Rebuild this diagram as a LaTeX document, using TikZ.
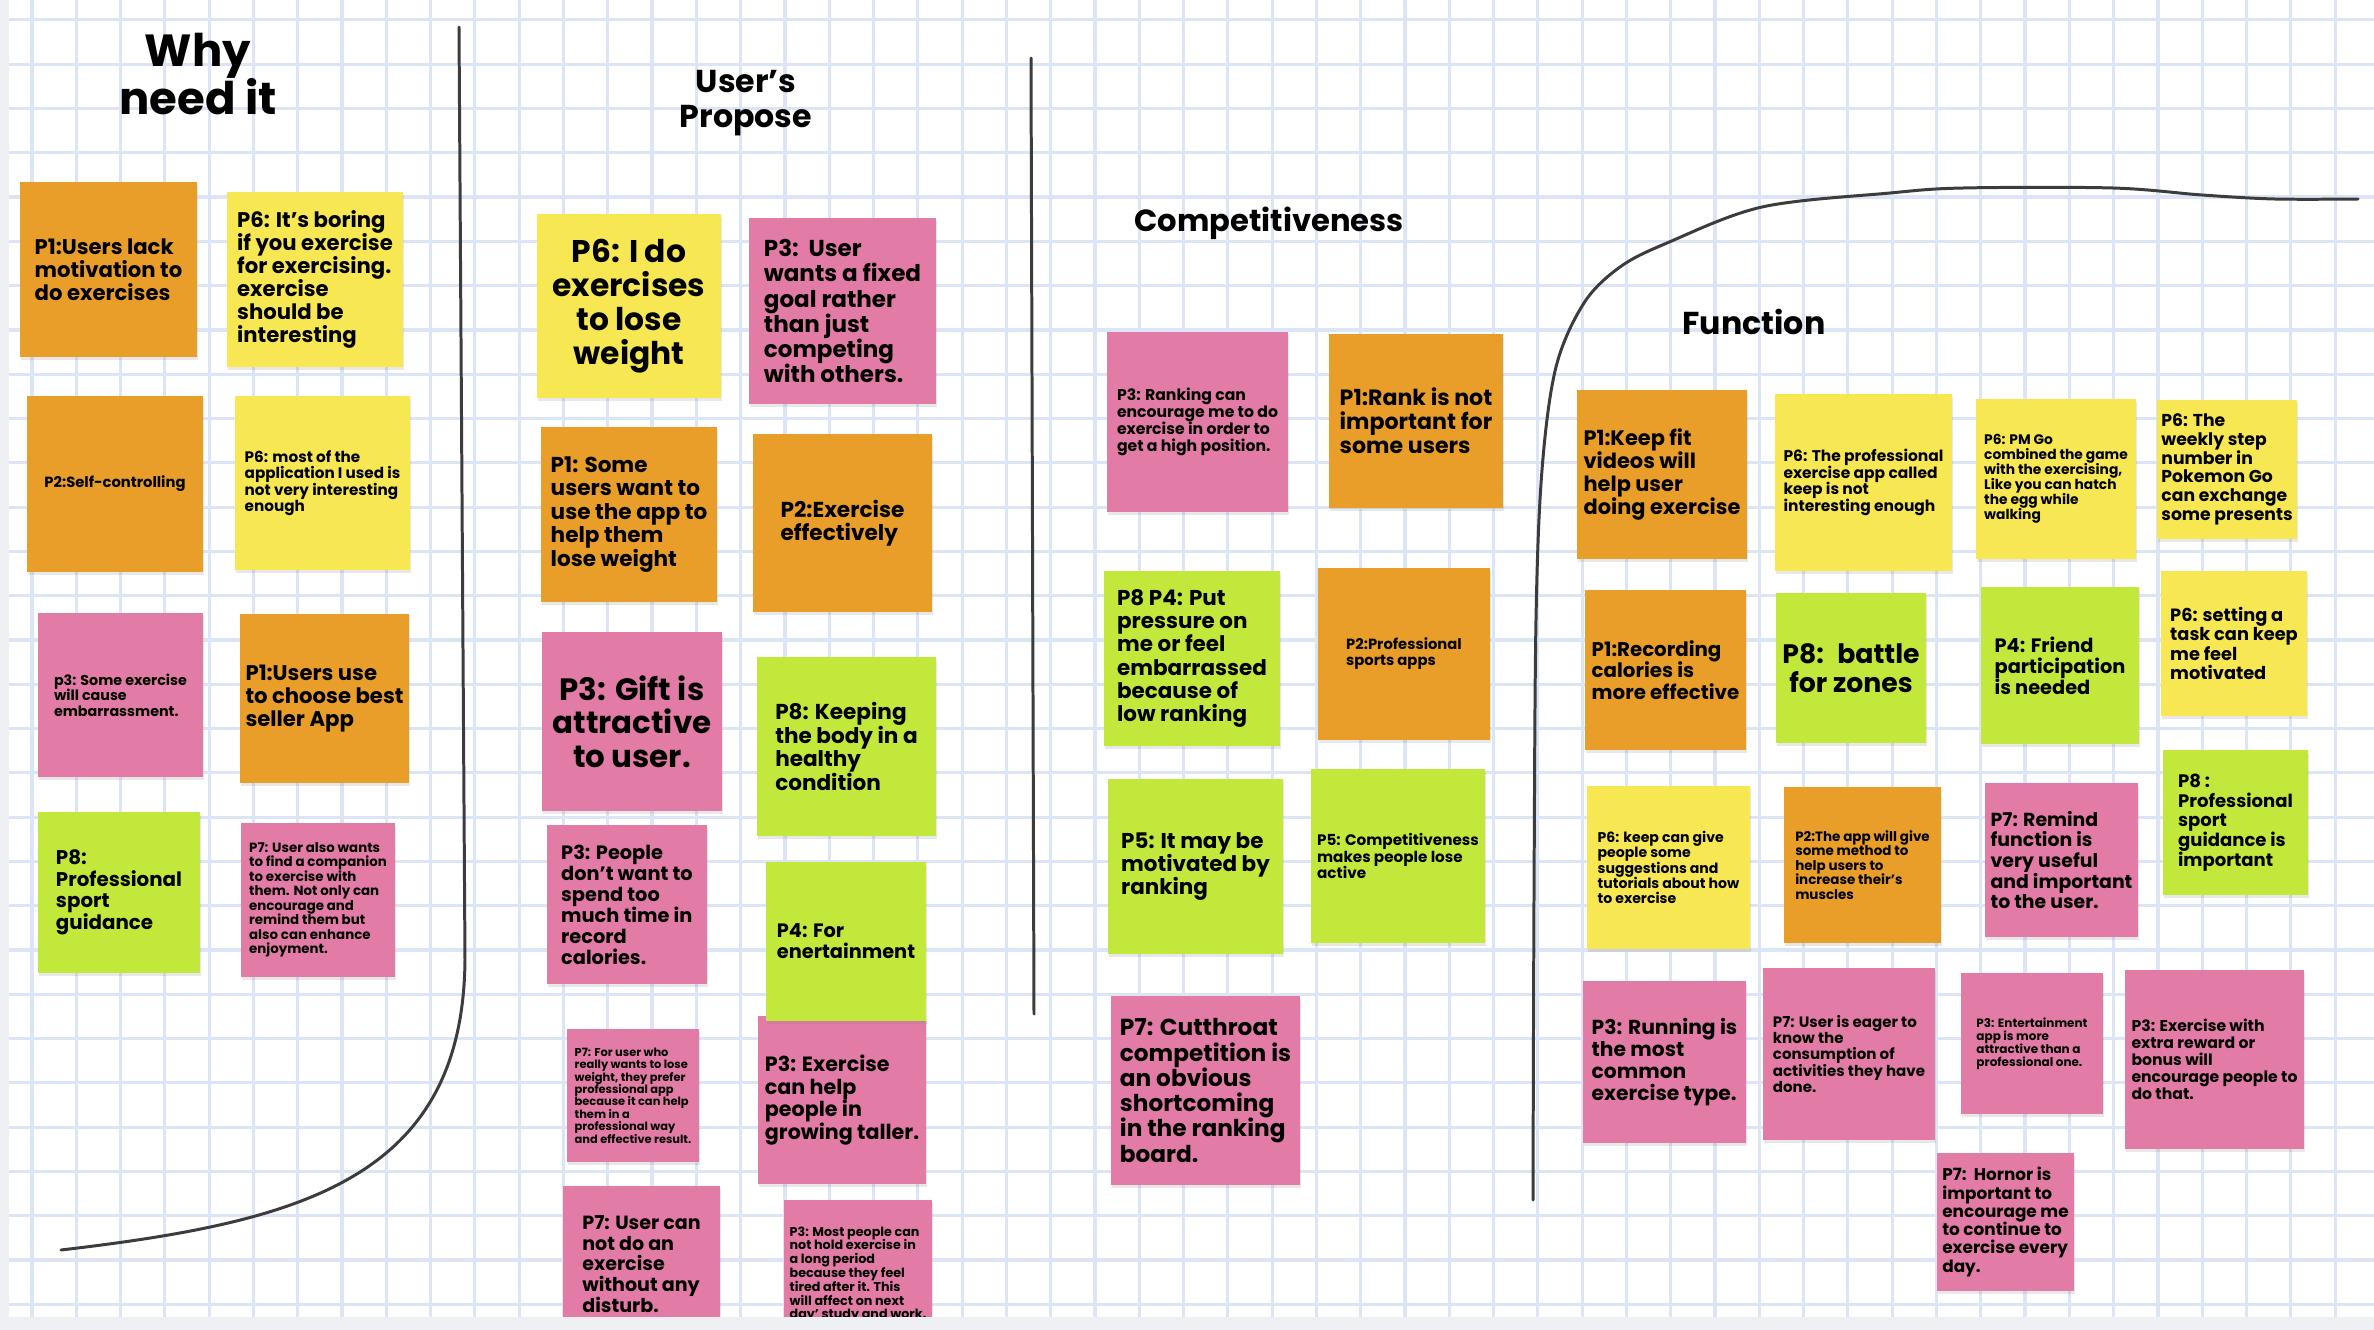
\documentclass[tikz,border=0pt]{standalone}
\usepackage{fontspec}
\setmainfont{Poppins}
\usetikzlibrary{shadows}

\definecolor{stickyorange}{HTML}{E99E2A}
\definecolor{stickyyellow}{HTML}{F7E752}
\definecolor{stickypink}{HTML}{E27CA6}
\definecolor{stickygreen}{HTML}{C1E83B}
\definecolor{gridblue}{HTML}{DCE5F5}
\definecolor{panelgrey}{HTML}{EEF0F3}
\definecolor{penline}{HTML}{3C3C3C}

% font size from the line pitch of a note (in board pixels)
\newcommand\fs[1]{\fontsize{\fpeval{#1*0.262}}{\fpeval{#1*0.2845}}\selectfont}

\begin{document}
\begin{tikzpicture}[x=0.01cm, y=-0.01cm,
    grid line/.style={draw=gridblue, line width=0.9pt},
    divider/.style={draw=penline, line width=0.85pt, line cap=round},
    sticky note/.style={fill=#1, inner sep=0pt, align=left,
        drop shadow={shadow xshift=0.4pt, shadow yshift=-0.9pt, opacity=0.18}},
    note size/.style 2 args={minimum width=#1*0.01cm, minimum height=#2*0.01cm},
    note font/.style={font=\bfseries\fs{#1}},
    heading/.style 2 args={font=\bfseries\fontsize{#1}{#2}\selectfont, align=center, inner sep=0pt}]

    \useasboundingbox (0,0) rectangle (2374,1330);
    \fill[white] (0,0) rectangle (2374,1330);

    % Board grid
    \foreach \k in {0,...,52}
        \draw[grid line] ({32+44.29*\k},0) -- ({32+44.29*\k},1330);
    \foreach \k in {0,...,29}
        \draw[grid line] (0,{19.9+44.29*\k}) -- (2374,{19.9+44.29*\k});

    % Hand-drawn separators
    \draw[divider] (459,27) -- (465,960) .. controls (463,1180) and (300,1222) .. (61,1250);
    \draw[divider] (1031,58) -- (1034,1014);
    \draw[divider] plot[smooth, tension=0.55] coordinates {(1533,1200) (1534,900) (1536,620)
        (1542,470) (1556,367) (1584,303) (1620,267) (1667,243) (1762,207) (1890,193)
        (1963,188) (2113,188) (2202,195) (2275,199) (2358,199)};

    % Headings
    \node[heading={12.8pt}{13.7pt}] (why) at (198,74) {Why\\need it};
    \node[heading={9pt}{10pt}] (propose) at (746,103) {User's\\Propose};
    \node[heading={8.7pt}{10pt}] (compet) at (1269,223) {Competitiveness};
    \node[heading={9pt}{10pt}] (function) at (1754,322) {Function};

    % Why need it
    \node[sticky note=stickyorange, note size={177}{175}, note font=23] (why1) at (108.5,269.5) {P1:Users lack\\motivation to\\do exercises};
    \node[sticky note=stickyyellow, note size={176}{175}, note font=23] (why2) at (315,279.5) {P6: It’s boring\\if you exercise\\for exercising.\\exercise\\should be\\interesting};
    \node[sticky note=stickyorange, note size={176}{176}, note font=16] (why3) at (115,484) {P2:Self-controlling};
    \node[sticky note=stickyyellow, note size={175}{174}, note font=16.5] (why4) at (322.5,483) {P6: most of the\\application I used is\\not very interesting\\enough};
    \node[sticky note=stickypink, note size={165}{164}, note font=15.5] (why5) at (120.5,695) {p3: Some exercise\\will cause\\embarrassment.};
    \node[sticky note=stickyorange, note size={169}{169}, note font=23] (why6) at (324.5,698.5) {P1:Users use\\to choose best\\seller App};
    \node[sticky note=stickygreen, note size={162}{161}, note font=21.5] (why7) at (119,892.5) {P8:\\Professional\\sport\\guidance};
    \node[sticky note=stickypink, note size={154}{154}, note font=14.5] (why8) at (318,900) {P7: User also wants\\to find a companion\\to exercise with\\them. Not only can\\encourage and\\remind them but\\also can enhance\\enjoyment.};

    % User's Propose
    \node[sticky note=stickyyellow, note size={184}{184}, note font=34, align=center] (use1) at (629,306) {P6: I do\\exercises\\to lose\\weight};
    \node[sticky note=stickypink, note size={187}{186}, note font=25] (use2) at (842.5,311) {P3:\ \ User\\wants a fixed\\goal rather\\than just\\competing\\with others.};
    \node[sticky note=stickyorange, note size={176}{175}, note font=23.4] (use3) at (629,514.5) {P1: Some\\users want to\\use the app to\\help them\\lose weight};
    \node[sticky note=stickyorange, note size={179}{178}, note font=23.5] (use4) at (842.5,523) {P2:Exercise\\effectively};
    \node[sticky note=stickypink, note size={180}{179}, note font=33.5, align=center] (use5) at (632,721.5) {P3: Gift is\\attractive\\to user.};
    \node[sticky note=stickygreen, note size={179}{179}, note font=23.4] (use6) at (846.5,746.5) {P8: Keeping\\the body in a\\healthy\\condition};
    \node[sticky note=stickypink, note size={160}{159}, note font=21] (use7) at (627,904.5) {P3: People\\don't want to\\spend too\\much time in\\record\\calories.};
    \node[sticky note=stickypink, note size={168}{168}, note font=22.4] (use9) at (842,1100) {P3: Exercise\\can help\\people in\\growing taller.};
    \node[sticky note=stickygreen, note size={160}{159}, note font=21] (use8) at (846,941.5) {P4: For\\enertainment};
    \node[sticky note=stickypink, note size={132}{133}, note font=12.4] (use10) at (633,1095.5) {P7: For user who\\really wants to lose\\weight, they prefer\\professional app\\because it can help\\them in a\\professional way\\and effective result.};
    \node[sticky note=stickypink, note size={157}{156}, note font=20.7] (use11) at (641.5,1264) {P7: User can\\not do an\\exercise\\without any\\disturb.};
    \node[sticky note=stickypink, note size={148}{149}, note font=13.8] (use12) at (858,1274.5) {P3: Most people can\\not hold exercise in\\a long period\\because they feel\\tired after it. This\\will affect on next\\day' study and work.};

    % Competitiveness
    \node[sticky note=stickypink, note size={181}{180}, note font=17] (comp1) at (1197.5,422) {P3: Ranking can\\encourage me to do\\exercise in order to\\get a high position.};
    \node[sticky note=stickyorange, note size={174}{174}, note font=24] (comp2) at (1416,421) {P1:Rank is not\\important for\\some users};
    \node[sticky note=stickygreen, note size={176}{175}, note font=23.3] (comp3) at (1192,658.5) {P8 P4: Put\\pressure on\\me or feel\\embarrassed\\because of\\low ranking};
    \node[sticky note=stickyorange, note size={172}{172}, note font=16] (comp4) at (1404,654) {P2:Professional\\sports apps};
    \node[sticky note=stickygreen, note size={175}{175}, note font=23.3] (comp5) at (1195.5,866.5) {P5: It may be\\motivated by\\ranking};
    \node[sticky note=stickygreen, note size={174}{174}, note font=16.5] (comp6) at (1398,856) {P5: Competitiveness\\makes people lose\\active};
    \node[sticky note=stickypink, note size={189}{189}, note font=25.2] (comp7) at (1205.5,1090.5) {P7: Cutthroat\\competition is\\an obvious\\shortcoming\\in the ranking\\board.};

    % Function
    \node[sticky note=stickyorange, note size={170}{169}, note font=22.7] (func1) at (1662,474.5) {P1:Keep fit\\videos will\\help user\\doing exercise};
    \node[sticky note=stickyyellow, note size={177}{177}, note font=16.8] (func2) at (1863.5,482.5) {P6: The professional\\exercise app called\\keep is not\\interesting enough};
    \node[sticky note=stickyyellow, note size={160}{160}, note font=15] (func3) at (2056,479) {P6: PM Go\\combined the game\\with the exercising,\\Like you can hatch\\the egg while\\walking};
    \node[sticky note=stickyyellow, note size={140}{139}, note font=18.7] (func4) at (2227,469.5) {P6: The\\weekly step\\number in\\Pokemon Go\\can exchange\\some presents};
    \node[sticky note=stickyorange, note size={161}{160}, note font=21.5] (func5) at (1665.5,670) {P1:Recording\\calories is\\more effective};
    \node[sticky note=stickygreen, note size={150}{150}, note font=29, align=center] (func6) at (1851,668) {P8:\hspace{0.5em}battle\\for zones};
    \node[sticky note=stickygreen, note size={158}{157}, note font=21] (func7) at (2060,665.5) {P4: Friend\\participation\\is needed};
    \node[sticky note=stickyyellow, note size={146}{145}, note font=19.3] (func8) at (2234,643.5) {P6: setting a\\task can keep\\me feel\\motivated};
    \node[sticky note=stickyyellow, note size={163}{163}, note font=15.3] (func9) at (1668.5,867.5) {P6: keep can give\\people some\\suggestions and\\tutorials about how\\to exercise};
    \node[sticky note=stickyorange, note size={157}{156}, note font=14.6] (func10) at (1862.5,865) {P2:The app will give\\some method to\\help users to\\increase their's\\muscles};
    \node[sticky note=stickypink, note size={153}{154}, note font=20.5] (func11) at (2061.5,860) {P7: Remind\\function is\\very useful\\and important\\to the user.};
    \node[sticky note=stickygreen, note size={145}{145}, note font=19.6] (func12) at (2235.5,822.5) {P8 :\\Professional\\sport\\guidance is\\important};
    \node[sticky note=stickypink, note size={163}{162}, note font=22] (func13) at (1664.5,1062) {P3: Running is\\the most\\common\\exercise type.};
    \node[sticky note=stickypink, note size={172}{172}, note font=16.3] (func14) at (1849,1054) {P7: User is eager to\\know the\\consumption of\\activities they have\\done.};
    \node[sticky note=stickypink, note size={142}{141}, note font=13] (func15) at (2032,1043.5) {P3: Entertainment\\app is more\\attractive than a\\professional one.};
    \node[sticky note=stickypink, note size={179}{179}, note font=17] (func16) at (2214.5,1059.5) {P3: Exercise with\\extra reward or\\bonus will\\encourage people to\\do that.};
    \node[sticky note=stickypink, note size={137}{138}, note font=18.3] (func17) at (2005.5,1222) {P7:\ \ Hornor is\\important to\\encourage me\\to continue to\\exercise every\\day.};

    % Board edges
    \fill[panelgrey] (0,0) rectangle (9,1330);
    \fill[panelgrey] (0,1317) rectangle (2374,1330);
\end{tikzpicture}
\end{document}
